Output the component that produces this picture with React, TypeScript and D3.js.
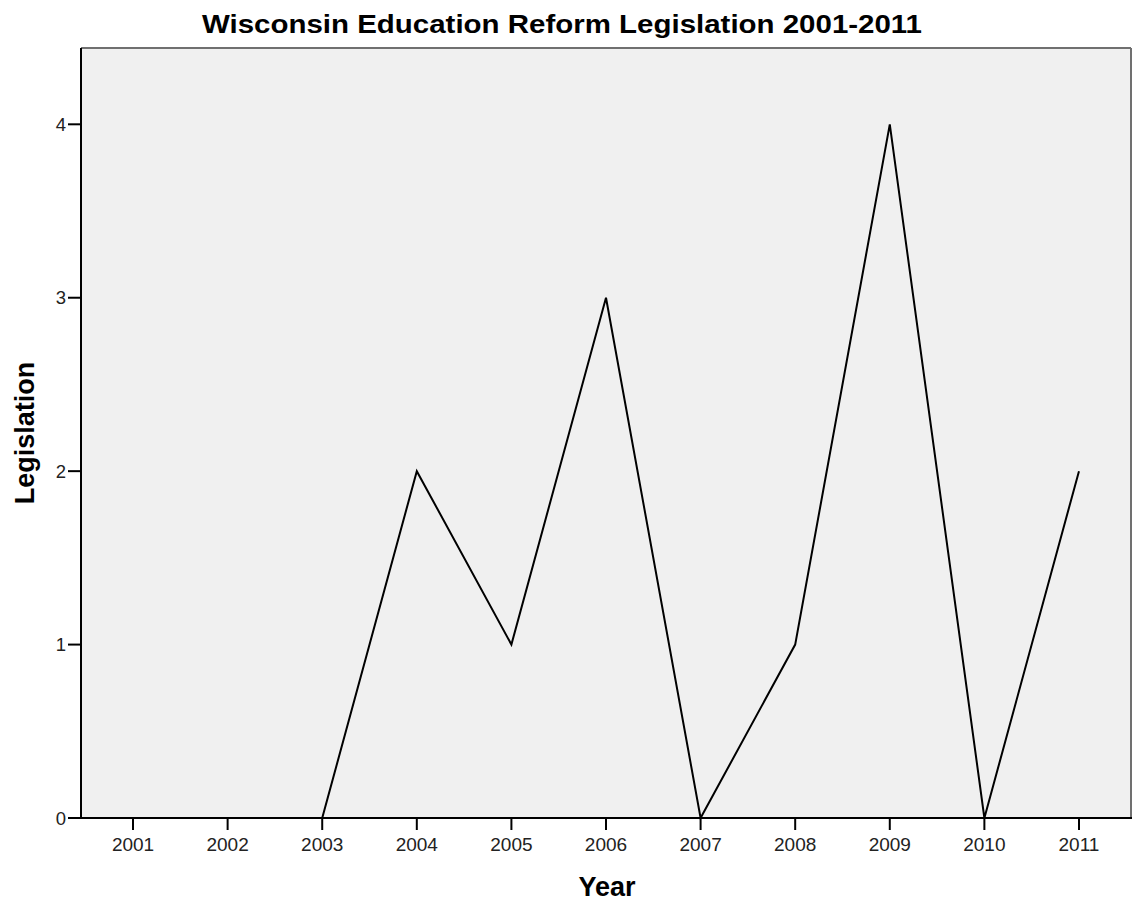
import React from "react";
import * as d3 from "d3";

const years = ["2001","2002","2003","2004","2005","2006","2007","2008","2009","2010","2011"];
const legislation = [0, 0, 0, 2, 1, 3, 0, 1, 4, 0, 2];
const yTicks = [0, 1, 2, 3, 4];
const title = "Wisconsin Education Reform Legislation 2001-2011";
const xTitle = "Year";
const yTitle = "Legislation";

const W = 1134, H = 904;
const left = 81, right = 1131, top = 48, bottom = 818;
const font = "Arial, 'Liberation Sans', sans-serif";

export default function App() {
  const x = d3.scalePoint<string>().domain(years).range([left, right]).padding(0.55);
  const y = d3.scaleLinear().domain([0, 4.44]).range([bottom, top]);
  const line = d3.line<number>().x((_, i) => x(years[i])!).y(d => y(d));
  return (
    <svg width={W} height={H} style={{ position: "absolute", left: 0, top: 0, background: "#fff" }}>
      <rect x={left} y={top} width={right - left} height={bottom - top} fill="#f0f0f0" stroke="none" />
      <line x1={left} x2={right} y1={top} y2={top} stroke="#707070" strokeWidth={2} />
      <line x1={right} x2={right} y1={top} y2={bottom} stroke="#707070" strokeWidth={2} />
      <line x1={left} x2={left} y1={top} y2={bottom + 1} stroke="#000" strokeWidth={2} />
      <line x1={left} x2={right + 1} y1={bottom} y2={bottom} stroke="#000" strokeWidth={2} />
      {yTicks.map(t => (
        <g key={t}>
          <line x1={left - 13} x2={left} y1={y(t)} y2={y(t)} stroke="#000" strokeWidth={2} />
          <text x={left - 15} y={y(t)} dy="0.36em" textAnchor="end" fontFamily={font} fontSize={18.5} fill="#222">{t}</text>
        </g>
      ))}
      {years.map(yr => (
        <g key={yr}>
          <line x1={x(yr)} x2={x(yr)} y1={bottom} y2={bottom + 12} stroke="#000" strokeWidth={2} />
          <text x={x(yr)} y={bottom + 33} textAnchor="middle" fontFamily={font} fontSize={19} fill="#222">{yr}</text>
        </g>
      ))}
      <path d={line(legislation)!} fill="none" stroke="#000" strokeWidth={2} strokeLinejoin="miter" />
      <text x={562} y={33} textAnchor="middle" fontFamily={font} fontSize={26} fontWeight="bold" fill="#000" textLength={720} lengthAdjust="spacingAndGlyphs">{title}</text>
      <text x={607} y={896} textAnchor="middle" fontFamily={font} fontSize={27} fontWeight="bold" fill="#000">{xTitle}</text>
      <text transform={`translate(34,433) rotate(-90)`} textAnchor="middle" fontFamily={font} fontSize={27} fontWeight="bold" fill="#000">{yTitle}</text>
    </svg>
  );
}
